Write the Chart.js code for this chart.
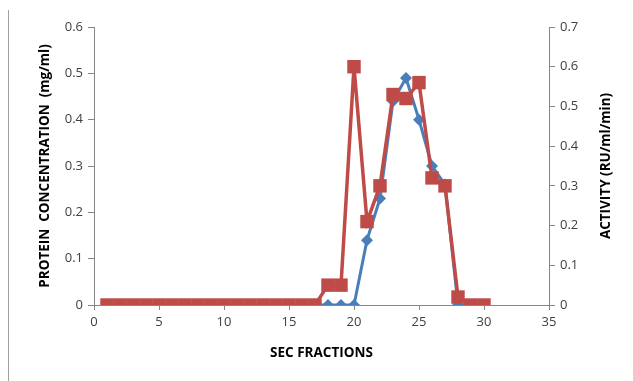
<!DOCTYPE html>
<html>
<head>
<meta charset="utf-8">
<script src="https://cdn.jsdelivr.net/npm/chart.js@4"></script>
<style>
  html, body { margin: 0; padding: 0; background: #ffffff; }
  #wrap { position: relative; width: 633px; height: 381px; }
  #edge { position: absolute; left: 8px; top: 10px; width: 1px; height: 371px; background: #a0a0a0; }
</style>
</head>
<body>
<div id="wrap">
  <div id="edge"></div>
  <canvas id="secChart" width="633" height="381"></canvas>
</div>
<script>
// Fraktionen und Messwerte
const fractions = [1, 2, 3, 4, 5, 6, 7, 8, 9, 10, 11, 12, 13, 14, 15, 16, 17, 18, 19, 20, 21, 22, 23, 24, 25, 26, 27, 28, 29, 30];
const protein = [0, 0, 0, 0, 0, 0, 0, 0, 0, 0, 0, 0, 0, 0, 0, 0, 0, 0, 0, 0, 0.14, 0.23, 0.44, 0.49, 0.40, 0.30, 0.26, 0, 0, 0];
const activity = [0, 0, 0, 0, 0, 0, 0, 0, 0, 0, 0, 0, 0, 0, 0, 0, 0, 0.05, 0.05, 0.60, 0.21, 0.30, 0.53, 0.52, 0.56, 0.32, 0.30, 0.02, 0, 0];
const xTicks = [0, 5, 10, 15, 20, 25, 30, 35];
const leftTicks = [0, 0.1, 0.2, 0.3, 0.4, 0.5, 0.6];
const rightTicks = [0, 0.1, 0.2, 0.3, 0.4, 0.5, 0.6, 0.7];

const toPoints = values => fractions.map((f, i) => ({ x: f, y: values[i] }));

const axisGray = "#868686";
const tickFont = { family: "'Open Sans', sans-serif", size: 13 };
const titleFont = { family: "'Open Sans', sans-serif", size: 13.5, weight: "bold" };

// Rechte Achsenbeschriftung von unten nach oben schreiben (wie im Original)
const rightTitlePlugin = {
    id: "rightTitle",
    afterDraw(chart) {
        const ctx = chart.ctx;
        const area = chart.chartArea;
        ctx.save();
        ctx.translate(606, (area.top + area.bottom) / 2);
        ctx.rotate(-Math.PI / 2);
        ctx.font = "bold 13.5px 'Open Sans', sans-serif";
        ctx.fillStyle = "#000000";
        ctx.textAlign = "center";
        ctx.textBaseline = "middle";
        ctx.fillText("ACTIVITY (RU/ml/min)", 0, 0);
        ctx.restore();
    }
};

new Chart(document.getElementById("secChart").getContext("2d"), {
    type: "line",
    data: {
        datasets: [{
            label: "Activity",
            data: toPoints(activity),
            yAxisID: "yRight",
            borderColor: "#BE4B48",
            backgroundColor: "#BE4B48",
            borderWidth: 3.5,
            pointStyle: "rect",
            pointRadius: 9.5,
            pointBorderWidth: 0,
            tension: 0,
            order: 0
        }, {
            label: "Protein",
            data: toPoints(protein),
            yAxisID: "yLeft",
            borderColor: "#4A7EBB",
            backgroundColor: "#4A7EBB",
            borderWidth: 3,
            pointStyle: "rectRot",
            pointRadius: 6,
            pointBorderWidth: 0,
            tension: 0,
            order: 1
        }]
    },
    options: {
        responsive: false,
        animation: false,
        events: [],
        layout: { padding: { top: 27, left: 0, right: 0, bottom: 0 } },
        plugins: { legend: { display: false }, tooltip: { enabled: false } },
        scales: {
            x: {
                type: "linear",
                min: 0,
                max: 35,
                afterBuildTicks: s => { s.ticks = xTicks.map(v => ({ value: v })); },
                afterFit: s => { s.height = 76; },
                grid: { drawOnChartArea: false, color: axisGray, tickLength: 5 },
                border: { color: axisGray },
                ticks: { font: tickFont, color: "#404040", padding: 4, maxRotation: 0 },
                title: { display: true, text: "SEC FRACTIONS", font: titleFont, color: "#000000", padding: { top: 0, bottom: 20 } }
            },
            yLeft: {
                position: "left",
                min: 0,
                max: 0.6,
                afterBuildTicks: s => { s.ticks = leftTicks.map(v => ({ value: v })); },
                afterFit: s => { s.width = 94; },
                grid: { drawOnChartArea: false, color: axisGray, tickLength: 6 },
                border: { color: axisGray },
                ticks: { font: tickFont, color: "#404040", padding: 5, callback: v => v === 0 ? "0" : v.toFixed(1) },
                title: { display: true, text: "PROTEIN  CONCENTRATION  (mg/ml)", font: titleFont, color: "#000000", padding: { top: 37, bottom: 0 } }
            },
            yRight: {
                position: "right",
                min: 0,
                max: 0.7,
                afterBuildTicks: s => { s.ticks = rightTicks.map(v => ({ value: v })); },
                afterFit: s => { s.width = 84; },
                grid: { drawOnChartArea: false, color: axisGray, tickLength: 6 },
                border: { color: axisGray },
                ticks: { font: tickFont, color: "#404040", padding: 5, callback: v => v === 0 ? "0" : v.toFixed(1) }
            }
        }
    },
    plugins: [rightTitlePlugin]
});
</script>
</body>
</html>
